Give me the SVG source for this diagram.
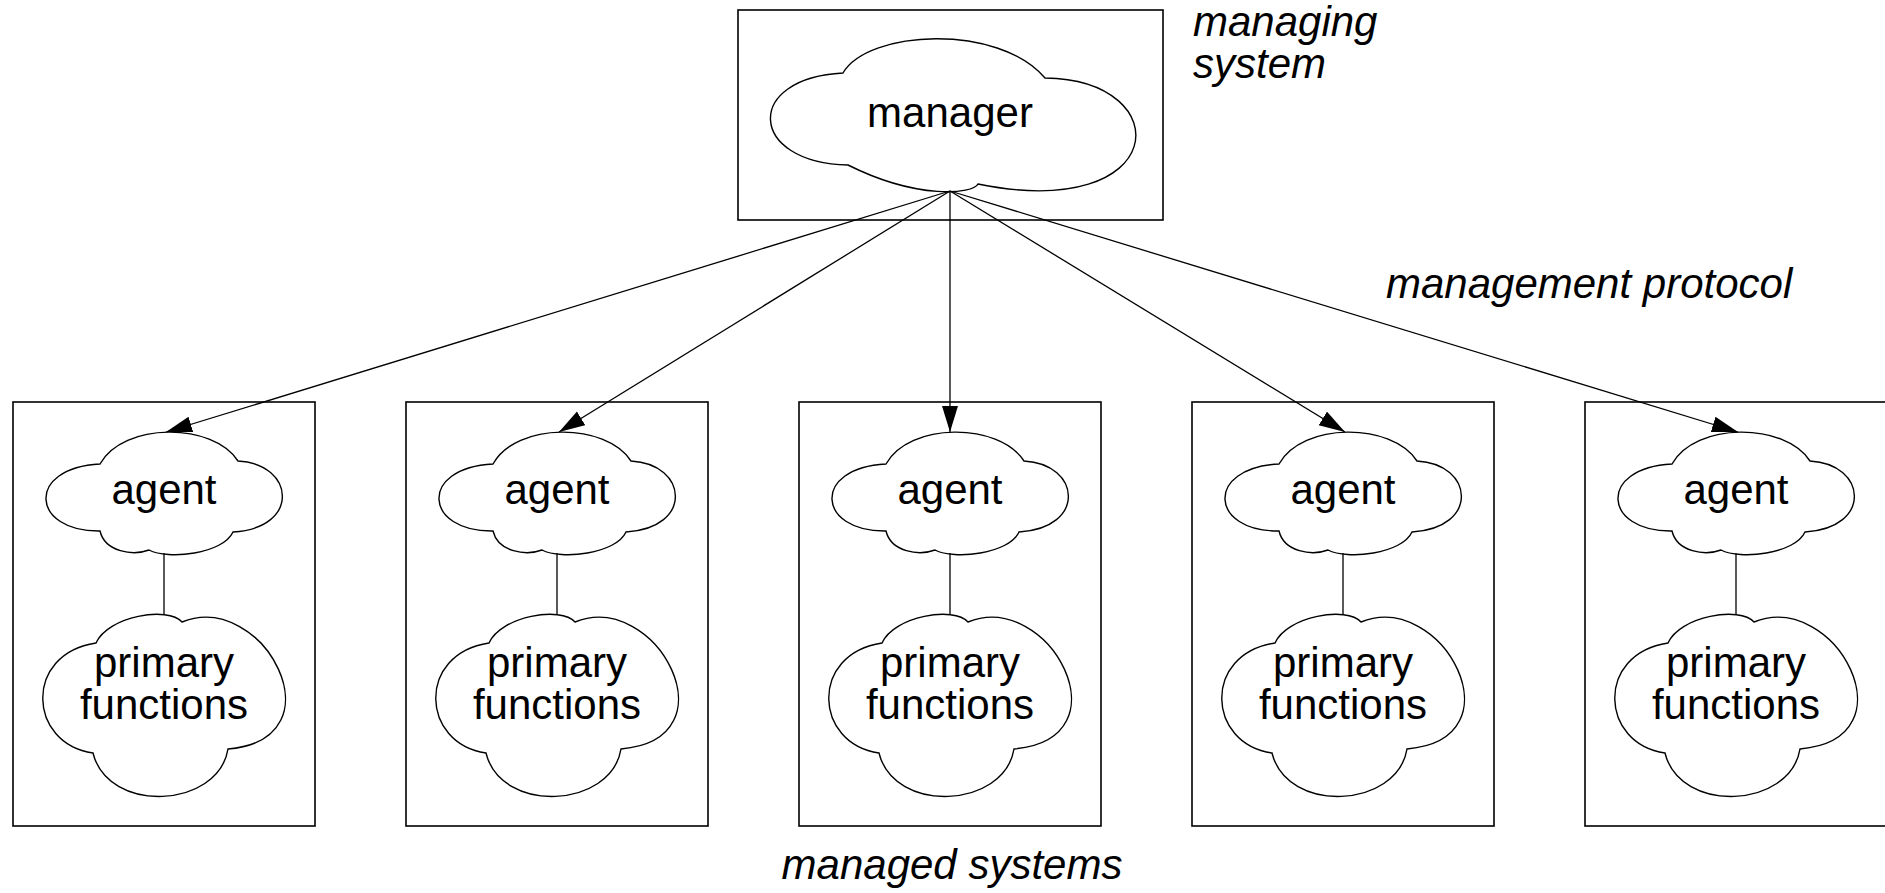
<svg xmlns="http://www.w3.org/2000/svg" xmlns:xlink="http://www.w3.org/1999/xlink" width="1885" height="893" viewBox="0 0 1885 893">
<style>
.box{fill:none;stroke:#000;stroke-width:1.6}
.cloud{fill:#fff;stroke:#000;stroke-width:1.4}
.lbl{font-family:"Liberation Sans",Arial,sans-serif;font-size:42px;fill:#000;text-anchor:middle}
.it{font-family:"Liberation Sans",Arial,sans-serif;font-size:42px;font-style:italic;fill:#000}
.conn{stroke:#000;stroke-width:1.3;fill:none}
</style>
<defs>
<marker id="arr" markerUnits="userSpaceOnUse" markerWidth="30" markerHeight="20" refX="26" refY="8" orient="auto">
<path d="M0,0 L26,8 L0,16 Z" fill="#000"/>
</marker>
<path id="agentCloud" class="cloud" d="M57,32 C80,-10 170,-10 195,29 C252,32 258,96 190,100 C180,122 125,128 106,118 C90,124 62,120 57,99 C-12,100 -18,36 57,32 Z"/>
<path id="primaryCloud" class="cloud" d="M53,29 C65,2 125,-8 139,8 C220,-25 300,125 185,135 C175,195 65,200 50,139 C-15,130 -20,40 53,29 Z"/>
</defs>
<g id="managing-system">
<rect class="box" x="738" y="10" width="425" height="210"/>
<text class="it" x="1193" y="36">managing</text>
<text class="it" x="1193" y="78">system</text>
<g id="manager" transform="translate(768,38)">
<path class="cloud" d="M75,35 C100,-8 230,-15 277,40 C412,42 402,185 210,146 C205,156 150,162 80,127 C-20,125 -25,40 75,35 Z"/>
<text class="lbl" x="182" y="89">manager</text>
</g>
</g>
<g id="managed-system-1" transform="translate(13,402)">
<rect class="box" x="0" y="0" width="302" height="424"/>
<g id="agent-1"><use xlink:href="#agentCloud" x="30" y="30"/><text class="lbl" x="151" y="102">agent</text></g>
<g id="primary-1"><use xlink:href="#primaryCloud" x="30" y="212"/><text class="lbl" x="151" y="275">primary</text><text class="lbl" x="151" y="317">functions</text></g>
</g>
<g id="managed-system-2" transform="translate(406,402)">
<rect class="box" x="0" y="0" width="302" height="424"/>
<g id="agent-2"><use xlink:href="#agentCloud" x="30" y="30"/><text class="lbl" x="151" y="102">agent</text></g>
<g id="primary-2"><use xlink:href="#primaryCloud" x="30" y="212"/><text class="lbl" x="151" y="275">primary</text><text class="lbl" x="151" y="317">functions</text></g>
</g>
<g id="managed-system-3" transform="translate(799,402)">
<rect class="box" x="0" y="0" width="302" height="424"/>
<g id="agent-3"><use xlink:href="#agentCloud" x="30" y="30"/><text class="lbl" x="151" y="102">agent</text></g>
<g id="primary-3"><use xlink:href="#primaryCloud" x="30" y="212"/><text class="lbl" x="151" y="275">primary</text><text class="lbl" x="151" y="317">functions</text></g>
</g>
<g id="managed-system-4" transform="translate(1192,402)">
<rect class="box" x="0" y="0" width="302" height="424"/>
<g id="agent-4"><use xlink:href="#agentCloud" x="30" y="30"/><text class="lbl" x="151" y="102">agent</text></g>
<g id="primary-4"><use xlink:href="#primaryCloud" x="30" y="212"/><text class="lbl" x="151" y="275">primary</text><text class="lbl" x="151" y="317">functions</text></g>
</g>
<g id="managed-system-5" transform="translate(1585,402)">
<rect class="box" x="0" y="0" width="302" height="424"/>
<g id="agent-5"><use xlink:href="#agentCloud" x="30" y="30"/><text class="lbl" x="151" y="102">agent</text></g>
<g id="primary-5"><use xlink:href="#primaryCloud" x="30" y="212"/><text class="lbl" x="151" y="275">primary</text><text class="lbl" x="151" y="317">functions</text></g>
</g>
<g id="connectors">
<line class="conn" x1="950" y1="191" x2="166" y2="432" marker-end="url(#arr)"/>
<line class="conn" x1="950" y1="191" x2="559" y2="432" marker-end="url(#arr)"/>
<line class="conn" x1="950" y1="191" x2="950" y2="432" marker-end="url(#arr)"/>
<line class="conn" x1="950" y1="191" x2="1345" y2="432" marker-end="url(#arr)"/>
<line class="conn" x1="950" y1="191" x2="1738" y2="432" marker-end="url(#arr)"/>
<line class="conn" x1="164" y1="553" x2="164" y2="615"/>
<line class="conn" x1="557" y1="553" x2="557" y2="615"/>
<line class="conn" x1="950" y1="553" x2="950" y2="615"/>
<line class="conn" x1="1343" y1="553" x2="1343" y2="615"/>
<line class="conn" x1="1736" y1="553" x2="1736" y2="615"/>
</g>
<text class="it" x="1386" y="298">management protocol</text>
<text class="it" x="952" y="879" text-anchor="middle">managed systems</text>
</svg>
